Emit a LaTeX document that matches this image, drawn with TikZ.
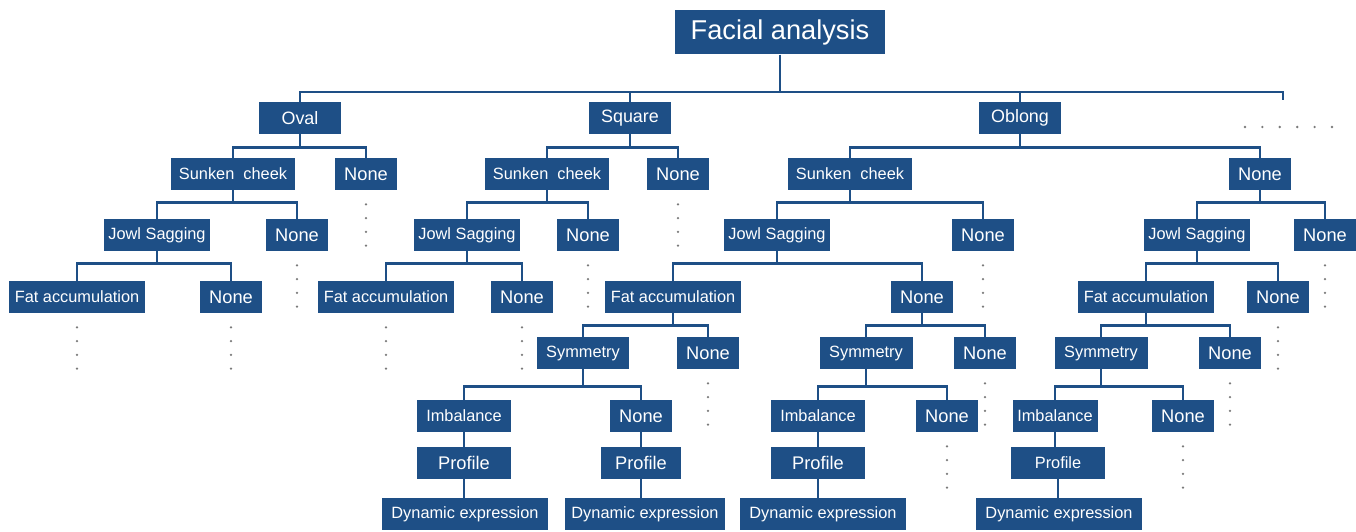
\documentclass[tikz,border=0pt]{standalone}
\usepackage{fontspec}
\setmainfont{Liberation Sans}
\usepackage{xcolor}
\definecolor{boxblue}{HTML}{1E4F86}
\definecolor{dotgray}{HTML}{7A7A7A}

\begin{document}
\begin{tikzpicture}[x=0.02cm, y=-0.02cm,
    box/.style={fill=boxblue, text=white, inner sep=0pt, minimum height=0.64cm, minimum width=#1, font=\fontsize{9.3}{11}\selectfont},
    nonebox/.style={box=1.24cm, font=\fontsize{10.4}{12}\selectfont},
    link/.style={draw=boxblue, line width=1.35pt},
    dotrow/.style={draw=dotgray, line width=1.5pt, line cap=round, dash pattern=on 0pt off #1}]
    \useasboundingbox (0,0) rectangle (1356,531);

    \node[box=4.22cm, minimum height=0.9cm, font=\fontsize{15.5}{18}\selectfont] (root) at (780,32) {Facial analysis};
    \node[box=1.64cm, font=\fontsize{10.2}{12}\selectfont] (oval) at (300,118) {Oval};
    \node[box=1.64cm, font=\fontsize{10.2}{12}\selectfont] (square) at (630,118) {Square};
    \node[box=1.64cm, font=\fontsize{10.2}{12}\selectfont] (oblong) at (1020,118) {Oblong};
    \coordinate (more) at (1283,100);

    % oval
    \node[box=2.5cm] (ovCheek) at (233,174) {Sunken\ \ cheek};
    \node[nonebox] (ovNone2) at (366,174) {None};
    \node[box=2.12cm] (ovJowl) at (157,235) {Jowl Sagging};
    \node[nonebox] (ovNone3) at (297,235) {None};
    \node[box=2.74cm] (ovFat) at (77,297) {Fat accumulation};
    \node[nonebox] (ovNone4) at (231,297) {None};

    % square
    \node[box=2.5cm] (sqCheek) at (547,174) {Sunken\ \ cheek};
    \node[nonebox] (sqNone2) at (678,174) {None};
    \node[box=2.12cm] (sqJowl) at (467,235) {Jowl Sagging};
    \node[nonebox] (sqNone3) at (588,235) {None};
    \node[box=2.74cm] (sqFat) at (386,297) {Fat accumulation};
    \node[nonebox] (sqNone4) at (522,297) {None};

    % oblong, sunken cheek
    \node[box=2.5cm] (obCheek) at (850,174) {Sunken\ \ cheek};
    \node[nonebox] (obNone2) at (1260,174) {None};
    \node[box=2.12cm] (obJowl) at (777,235) {Jowl Sagging};
    \node[nonebox] (obNone3) at (983,235) {None};
    \node[box=2.74cm] (obFat) at (673,297) {Fat accumulation};
    \node[nonebox] (obNone4) at (922,297) {None};
    \node[box=1.86cm] (obSym) at (583,353) {Symmetry};
    \node[nonebox] (obNone5) at (708,353) {None};
    \node[box=1.88cm] (obImb) at (464,416) {Imbalance};
    \node[nonebox] (obNone6) at (641,416) {None};
    \node[box=1.88cm, font=\fontsize{10.4}{12}\selectfont] (obProf) at (464,463) {Profile};
    \node[box=1.62cm, font=\fontsize{10.4}{12}\selectfont] (obNoneProf) at (641,463) {Profile};
    \node[box=3.32cm] (obDyn) at (465,514) {Dynamic expression};
    \node[box=3.2cm] (obNoneDyn) at (645,514) {Dynamic expression};

    % oblong, none under jowl sagging
    \node[box=1.86cm] (nfSym) at (866,353) {Symmetry};
    \node[nonebox] (nfNone5) at (985,353) {None};
    \node[box=1.88cm] (nfImb) at (818,416) {Imbalance};
    \node[nonebox] (nfNone6) at (947,416) {None};
    \node[box=1.88cm, font=\fontsize{10.4}{12}\selectfont] (nfProf) at (818,463) {Profile};
    \node[box=3.32cm] (nfDyn) at (823,514) {Dynamic expression};

    % oblong, none
    \node[box=2.12cm] (onJowl) at (1197,235) {Jowl Sagging};
    \node[nonebox] (onNone3) at (1325,235) {None};
    \node[box=2.74cm] (onFat) at (1146,297) {Fat accumulation};
    \node[nonebox] (onNone4) at (1278,297) {None};
    \node[box=1.86cm] (onSym) at (1101,353) {Symmetry};
    \node[nonebox] (onNone5) at (1230,353) {None};
    \node[box=1.7cm] (onImb) at (1055,416) {Imbalance};
    \node[nonebox] (onNone6) at (1183,416) {None};
    \node[box=1.88cm] (onProf) at (1058,463) {Profile};
    \node[box=3.32cm] (onDyn) at (1059,514) {Dynamic expression};

    \draw[link] (root.south) -- ++(0,37) -| (oval.north);
    \draw[link] (root.south) -- ++(0,37) -| (square.north);
    \draw[link] (root.south) -- ++(0,37) -| (oblong.north);
    \draw[link] (root.south) -- ++(0,37) -| (more);

    \draw[link] (oval.south) -- ++(0,13) -| (ovCheek.north);
    \draw[link] (oval.south) -- ++(0,13) -| (ovNone2.north);
    \draw[link] (square.south) -- ++(0,13) -| (sqCheek.north);
    \draw[link] (square.south) -- ++(0,13) -| (sqNone2.north);
    \draw[link] (oblong.south) -- ++(0,13) -| (obCheek.north);
    \draw[link] (oblong.south) -- ++(0,13) -| (obNone2.north);

    \draw[link] (ovCheek.south) -- ++(0,12) -| (ovJowl.north);
    \draw[link] (ovCheek.south) -- ++(0,12) -| (ovNone3.north);
    \draw[link] (sqCheek.south) -- ++(0,12) -| (sqJowl.north);
    \draw[link] (sqCheek.south) -- ++(0,12) -| (sqNone3.north);
    \draw[link] (obCheek.south) -- ++(0,12) -| (obJowl.north);
    \draw[link] (obCheek.south) -- ++(0,12) -| (obNone3.north);
    \draw[link] (obNone2.south) -- ++(0,12) -| (onJowl.north);
    \draw[link] (obNone2.south) -- ++(0,12) -| (onNone3.north);

    \draw[link] (ovJowl.south) -- ++(0,12) -| (ovFat.north);
    \draw[link] (ovJowl.south) -- ++(0,12) -| (ovNone4.north);
    \draw[link] (sqJowl.south) -- ++(0,12) -| (sqFat.north);
    \draw[link] (sqJowl.south) -- ++(0,12) -| (sqNone4.north);
    \draw[link] (obJowl.south) -- ++(0,12) -| (obFat.north);
    \draw[link] (obJowl.south) -- ++(0,12) -| (obNone4.north);
    \draw[link] (onJowl.south) -- ++(0,12) -| (onFat.north);
    \draw[link] (onJowl.south) -- ++(0,12) -| (onNone4.north);

    \draw[link] (obFat.south) -- ++(0,12) -| (obSym.north);
    \draw[link] (obFat.south) -- ++(0,12) -| (obNone5.north);
    \draw[link] (obNone4.south) -- ++(0,12) -| (nfSym.north);
    \draw[link] (obNone4.south) -- ++(0,12) -| (nfNone5.north);
    \draw[link] (onFat.south) -- ++(0,12) -| (onSym.north);
    \draw[link] (onFat.south) -- ++(0,12) -| (onNone5.north);

    \draw[link] (obSym.south) -- ++(0,17) -| (obImb.north);
    \draw[link] (obSym.south) -- ++(0,17) -| (obNone6.north);
    \draw[link] (nfSym.south) -- ++(0,17) -| (nfImb.north);
    \draw[link] (nfSym.south) -- ++(0,17) -| (nfNone6.north);
    \draw[link] (onSym.south) -- ++(0,17) -| (onImb.north);
    \draw[link] (onSym.south) -- ++(0,17) -| (onNone6.north);

    \draw[link] (obImb.south) -- (obProf.north);
    \draw[link] (obProf.south) -- (obProf.south |- obDyn.north);
    \draw[link] (obNone6.south) -- (obNoneProf.north);
    \draw[link] (obNoneProf.south) -- (obNoneProf.south |- obNoneDyn.north);
    \draw[link] (nfImb.south) -- (nfProf.north);
    \draw[link] (nfProf.south) -- (nfProf.south |- nfDyn.north);
    \draw[link] (onImb.south) -- (onImb.south |- onProf.north);
    \draw[link] (onProf.south) -- (onProf.south |- onDyn.north);

    % continuation dots
    \draw[dotrow=0.348cm] (1245,127) -- (1332,127);
    \draw[dotrow=0.275cm] ([yshift=-0.28cm]ovNone2.south) -- ++(0,42);
    \draw[dotrow=0.275cm] ([yshift=-0.28cm]ovNone3.south) -- ++(0,42);
    \draw[dotrow=0.275cm] ([yshift=-0.28cm]ovFat.south) -- ++(0,42);
    \draw[dotrow=0.275cm] ([yshift=-0.28cm]ovNone4.south) -- ++(0,42);
    \draw[dotrow=0.275cm] ([yshift=-0.28cm]sqNone2.south) -- ++(0,42);
    \draw[dotrow=0.275cm] ([yshift=-0.28cm]sqNone3.south) -- ++(0,42);
    \draw[dotrow=0.275cm] ([yshift=-0.28cm]sqFat.south) -- ++(0,42);
    \draw[dotrow=0.275cm] ([yshift=-0.28cm]sqNone4.south) -- ++(0,42);
    \draw[dotrow=0.275cm] ([yshift=-0.28cm]obNone3.south) -- ++(0,42);
    \draw[dotrow=0.275cm] ([yshift=-0.28cm]obNone5.south) -- ++(0,42);
    \draw[dotrow=0.275cm] ([yshift=-0.28cm]nfNone5.south) -- ++(0,42);
    \draw[dotrow=0.275cm] ([yshift=-0.28cm]nfNone6.south) -- ++(0,42);
    \draw[dotrow=0.275cm] ([yshift=-0.28cm]onNone3.south) -- ++(0,42);
    \draw[dotrow=0.275cm] ([yshift=-0.28cm]onNone4.south) -- ++(0,42);
    \draw[dotrow=0.275cm] ([yshift=-0.28cm]onNone5.south) -- ++(0,42);
    \draw[dotrow=0.275cm] ([yshift=-0.28cm]onNone6.south) -- ++(0,42);
\end{tikzpicture}
\end{document}
